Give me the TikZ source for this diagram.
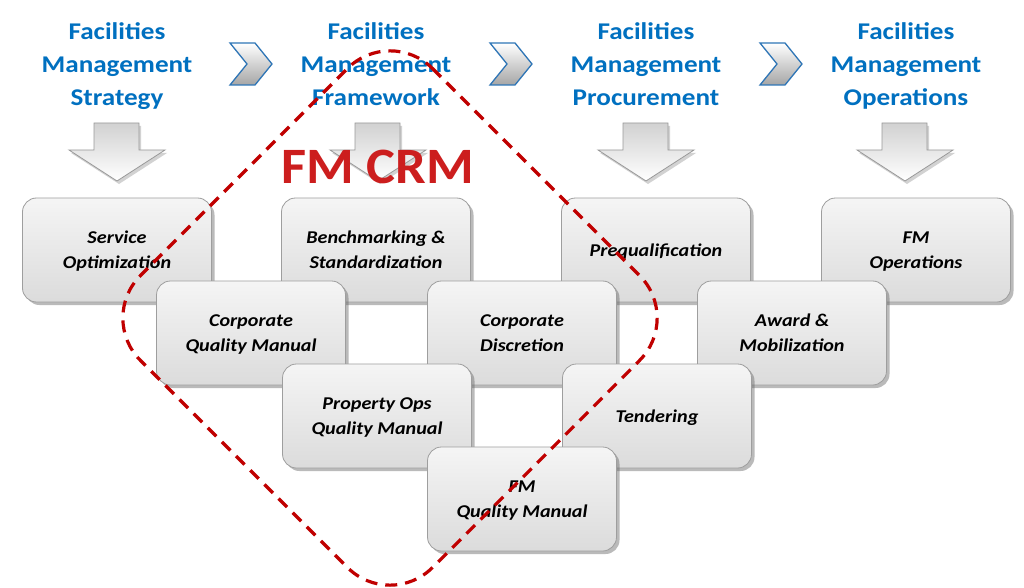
\documentclass[tikz,border=0pt]{standalone}
\usepackage{fontspec}
\setmainfont{Carlito}
\newfontfamily\hdrfont[FakeStretch=1.13]{Carlito}
\newfontfamily\boxfont[FakeStretch=1.12]{Carlito}
\newfontfamily\crmfont[FakeStretch=1.07]{Carlito}
\usetikzlibrary{shadows}
\definecolor{hdrblue}{RGB}{0,112,192}
\definecolor{crmred}{RGB}{192,0,0}
\definecolor{chevblue}{RGB}{46,117,182}
\definecolor{crmtext}{RGB}{204,30,30}
\begin{document}
\begin{tikzpicture}[x=1pt,y=-1pt,
  boxnode/.style={rounded corners=14pt, minimum width=189pt, minimum height=104pt,
    inner sep=2pt, align=center, text depth=0pt, font=\boxfont\fontsize{18}{25}\selectfont\bfseries\itshape,
    top color=black!4, bottom color=black!14, draw=black!38, line width=0.8pt,
    drop shadow={shadow xshift=3pt, shadow yshift=-3pt, fill=black!60, opacity=0.45}},
  hdr/.style={align=center, anchor=base, text=hdrblue,
    font=\hdrfont\fontsize{24}{33}\selectfont\bfseries},
  chev/.style={draw=chevblue, line width=1.3pt, line join=miter,
    top color=white, bottom color=black!35},
  darrow/.style={draw=black!40, line width=0.8pt, top color=black!18, bottom color=white,
    drop shadow={shadow xshift=2pt, shadow yshift=-3pt, fill=black!50, opacity=0.35}},
  crmline/.style={draw=crmred, line width=3.2pt, dash pattern=on 12pt off 8pt}
]
\useasboundingbox (0,0) rectangle (1024,588);
\fill[white] (0,0) rectangle (1024,588);

% headers
\node[hdr] (h1) at (117,106) {Facilities\\Management\\Strategy};
\node[hdr] (h2) at (376,106) {Facilities\\Management\\Framework};
\node[hdr] (h3) at (646,106) {Facilities\\Management\\Procurement};
\node[hdr] (h4) at (906,106) {Facilities\\Management\\Operations};

% chevrons
\foreach \dx in {0,260,530}
  \draw[chev, shift={(\dx,0)}] (230,43) -- (255,43) -- (272,64) -- (255,85) -- (230,85) -- (247,64) -- cycle;

% down arrows
\foreach \cx in {117,378,646,905}
  \draw[darrow] (\cx-23,123) -- (\cx+22,123) -- (\cx+22,150) -- (\cx+48,150) -- (\cx,181)
     -- (\cx-48,150) -- (\cx-23,150) -- cycle;

% FM CRM
\node[anchor=base, text=crmtext, font=\crmfont\fontsize{51}{51}\selectfont\bfseries] (crm) at (378,183) {FM CRM};

% boxes row 1
\node[boxnode] (b1) at (117,250) {Service\\Optimization};
\node[boxnode] (b2) at (376,250) {Benchmarking \&\\Standardization};
\node[boxnode] (b3) at (656,250) {Prequalification};
\node[boxnode] (b4) at (916,250) {FM\\Operations};
% row 2
\node[boxnode] (b5) at (251,333) {Corporate\\Quality Manual};
\node[boxnode] (b6) at (522,333) {Corporate\\Discretion};
\node[boxnode] (b7) at (792,333) {Award \&\\Mobilization};
% row 3
\node[boxnode] (b8) at (377,416) {Property Ops\\Quality Manual};
\node[boxnode] (b9) at (657,416) {Tendering};
% row 4
\node[boxnode] (b10) at (522,499) {FM\\Quality Manual};

% dashed CRM region
\draw[crmline, rounded corners=60pt] (390,26) -- (682,318) -- (390,610) -- (98,318) -- cycle;
\end{tikzpicture}
\end{document}
